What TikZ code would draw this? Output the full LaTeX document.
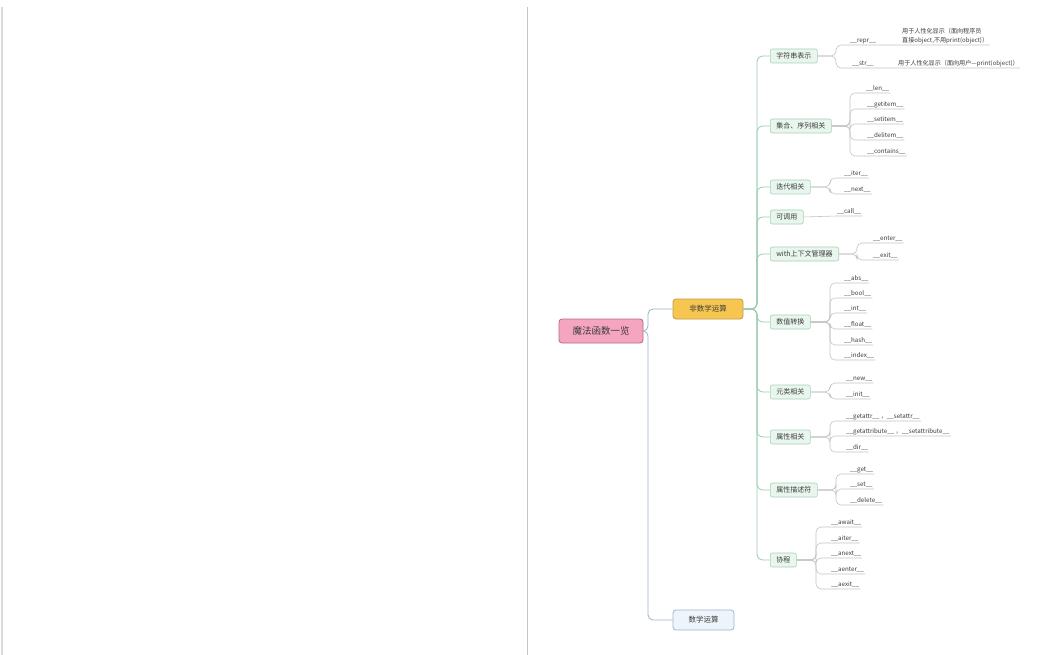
\documentclass[tikz,border=0pt]{standalone}
\usepackage{fontspec}
\setmainfont{Noto Sans CJK SC}
\definecolor{rootfill}{HTML}{F5A5BF}
\definecolor{rootdraw}{HTML}{B36A82}
\definecolor{nmfill}{HTML}{F7C650}
\definecolor{nmdraw}{HTML}{C29A45}
\definecolor{mfill}{HTML}{EEF4FB}
\definecolor{mdraw}{HTML}{9FB5CE}
\definecolor{subfill}{HTML}{E9F6EE}
\definecolor{subdraw}{HTML}{A6D2B6}
\definecolor{trunkc}{HTML}{9CCDB0}
\definecolor{rootline}{HTML}{9DB2C6}
\definecolor{leafc}{HTML}{C4C4C4}
\definecolor{txt}{HTML}{3C3C3C}
\definecolor{frame}{HTML}{DADADA}
\tikzset{
  rootbox/.style={draw=rootdraw, fill=rootfill, rounded corners=3pt, line width=0.8pt,
    minimum width=84pt, minimum height=24pt, inner sep=0pt, text=txt,
    font=\fontsize{9.5}{11}\selectfont},
  mainbox/.style={rounded corners=3pt, line width=0.8pt, minimum height=20pt,
    inner sep=0pt, text=txt, font=\fontsize{7.5}{9}\selectfont},
  subbox/.style={draw=subdraw, fill=subfill, rounded corners=2pt, line width=0.6pt,
    minimum height=14pt, inner xsep=6pt, inner ysep=0pt, text=txt, anchor=west,
    font=\fontsize{7}{8}\selectfont},
  leaf/.style={anchor=south west, inner xsep=1pt, inner ysep=1.2pt, text=txt,
    font=\fontsize{6.2}{7}\selectfont},
  desc/.style={anchor=south west, inner xsep=1pt, inner ysep=1.2pt, text=txt, align=left,
    font=\fontsize{6.1}{8.5}\selectfont},
  leafline/.style={draw=leafc, line width=0.6pt, rounded corners=5pt},
  trunk/.style={draw=trunkc, line width=0.8pt, rounded corners=6pt},
  rootlink/.style={draw=rootline, line width=0.8pt, rounded corners=5pt},
}
\begin{document}
\begin{tikzpicture}[x=1pt,y=-1pt]
\useasboundingbox (0,0) rectangle (1049,655);
\fill[white] (0,0) rectangle (1049,655);
% page frames
\coordinate (fa) at (2,7); \coordinate (fb) at (2,655);
\coordinate (fc) at (527,7); \coordinate (fd) at (527,655);
\draw[frame, line width=1.6pt] (fa) -- (fb);
\draw[frame!90!black, line width=1pt] (fc) -- (fd);

% main nodes
\node[rootbox] (root) at (601,331) {魔法函数一览};
\node[mainbox, draw=nmdraw, fill=nmfill, minimum width=70pt] (nm) at (708,309) {非数学运算};
\node[mainbox, draw=mdraw, fill=mfill, minimum width=61pt] (m) at (703.5,620) {数学运算};
\coordinate (rk) at (648,331);
\draw[rootlink] (root.east) -- (root.east -| rk) |- (nm.west);
\draw[rootlink] (root.east) -- (root.east -| rk) |- (m.west);

% second level
\node[subbox] (s1) at (770,56) {字符串表示};
\node[subbox] (s2) at (770,126) {集合、序列相关};
\node[subbox] (s3) at (770,187) {迭代相关};
\node[subbox] (s4) at (770,217) {可调用};
\node[subbox] (s5) at (770,254) {with上下文管理器};
\node[subbox] (s6) at (770,322) {数值转换};
\node[subbox] (s7) at (770,392) {元类相关};
\node[subbox] (s8) at (770,437) {属性相关};
\node[subbox] (s9) at (770,490) {属性描述符};
\node[subbox] (s10) at (770,560) {协程};
\coordinate (tk) at (757,309);
\foreach \s in {s1,s2,s3,s4,s5,s6,s7,s8,s9,s10}
  \draw[trunk] (nm.east) -- (nm.east -| tk) |- (\s.west);

% s1 leaves
\node[leaf] (repr) at (849,45) {\_\_repr\_\_};
\node[desc] (reprd) at (901,45) {用于人性化显示（面向程序员\\直接object,不用print(object)）};
\node[leaf] (str) at (851,68) {\_\_str\_\_};
\node[desc] (strd) at (897,68) {用于人性化显示（面向用户---print(object)）};
\coordinate (f1) at (836,0);
\draw[leafline] (s1.east) -- (s1.east -| f1) |- (repr.south west) -- (reprd.south east);
\draw[leafline] (s1.east) -- (s1.east -| f1) |- (str.south west) -- (strd.south east);

% s2 leaves
\node[leaf] (len) at (865,93) {\_\_len\_\_};
\node[leaf] (getitem) at (866,109) {\_\_getitem\_\_};
\node[leaf] (setitem) at (866,124) {\_\_setitem\_\_};
\node[leaf] (delitem) at (866,140) {\_\_delitem\_\_};
\node[leaf] (contains) at (866,156) {\_\_contains\_\_};
\coordinate (f2) at (850,0);
\foreach \l in {len,getitem,setitem,delitem,contains}
  \draw[leafline] (s2.east) -- (s2.east -| f2) |- (\l.south west) -- (\l.south east);

% s3 leaves
\node[leaf] (iter) at (843,178) {\_\_iter\_\_};
\node[leaf] (next) at (843,194) {\_\_next\_\_};
\coordinate (f3) at (830,0);
\foreach \l in {iter,next}
  \draw[leafline] (s3.east) -- (s3.east -| f3) |- (\l.south west) -- (\l.south east);

% s4 leaf
\node[leaf] (call) at (836,216) {\_\_call\_\_};
\draw[leafline] (s4.east) -- (call.south west) -- (call.south east);

% s5 leaves
\node[leaf] (enter) at (872,243) {\_\_enter\_\_};
\node[leaf] (exit) at (872,260) {\_\_exit\_\_};
\coordinate (f5) at (857,0);
\foreach \l in {enter,exit}
  \draw[leafline] (s5.east) -- (s5.east -| f5) |- (\l.south west) -- (\l.south east);

% s6 leaves
\node[leaf] (abs) at (843,283) {\_\_abs\_\_};
\node[leaf] (bool) at (843,298) {\_\_bool\_\_};
\node[leaf] (int) at (843,313) {\_\_int\_\_};
\node[leaf] (float) at (843,329) {\_\_float\_\_};
\node[leaf] (hash) at (843,345) {\_\_hash\_\_};
\node[leaf] (index) at (843,360) {\_\_index\_\_};
\coordinate (f6) at (830,0);
\foreach \l in {abs,bool,int,float,hash,index}
  \draw[leafline] (s6.east) -- (s6.east -| f6) |- (\l.south west) -- (\l.south east);

% s7 leaves
\node[leaf] (new) at (845,383) {\_\_new\_\_};
\node[leaf] (init) at (845,399) {\_\_init\_\_};
\coordinate (f7) at (830,0);
\foreach \l in {new,init}
  \draw[leafline] (s7.east) -- (s7.east -| f7) |- (\l.south west) -- (\l.south east);

% s8 leaves
\node[leaf] (getattr) at (845,421) {\_\_getattr\_\_ ，\_\_setattr\_\_};
\node[leaf] (getattribute) at (845,436) {\_\_getattribute\_\_ ，\_\_setattribute\_\_};
\node[leaf] (dir) at (845,452) {\_\_dir\_\_};
\coordinate (f8) at (830,0);
\foreach \l in {getattr,getattribute,dir}
  \draw[leafline] (s8.east) -- (s8.east -| f8) |- (\l.south west) -- (\l.south east);

% s9 leaves
\node[leaf] (get) at (849,474) {\_\_get\_\_};
\node[leaf] (set) at (849,489) {\_\_set\_\_};
\node[leaf] (delete) at (849,505) {\_\_delete\_\_};
\coordinate (f9) at (836,0);
\foreach \l in {get,set,delete}
  \draw[leafline] (s9.east) -- (s9.east -| f9) |- (\l.south west) -- (\l.south east);

% s10 leaves
\node[leaf] (await) at (830,527) {\_\_await\_\_};
\node[leaf] (aiter) at (830,543) {\_\_aiter\_\_};
\node[leaf] (anext) at (830,558) {\_\_anext\_\_};
\node[leaf] (aenter) at (830,574) {\_\_aenter\_\_};
\node[leaf] (aexit) at (830,589) {\_\_aexit\_\_};
\coordinate (f10) at (816,0);
\foreach \l in {await,aiter,anext,aenter,aexit}
  \draw[leafline] (s10.east) -- (s10.east -| f10) |- (\l.south west) -- (\l.south east);
\end{tikzpicture}
\end{document}
